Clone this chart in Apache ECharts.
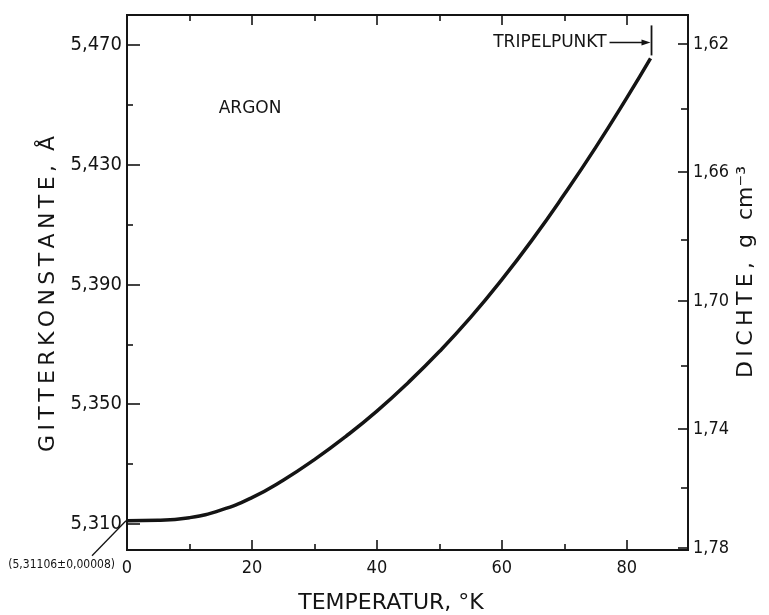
<!DOCTYPE html>
<html><head><meta charset="utf-8">
<script src="https://cdn.jsdelivr.net/npm/echarts@6/dist/echarts.min.js"></script>
<style>html,body{margin:0;padding:0;background:#fff}#c{width:769px;height:615px}</style>
</head><body><div id="c"></div>
<script>
// ---- data ----
const temperature = [0, 5, 10, 15, 20, 25, 30, 35, 40, 45, 50, 55, 60, 65, 70, 75, 80, 83.8];
const latticeConst = [5.3111, 5.3112, 5.3121, 5.3146, 5.3188, 5.3246, 5.3315, 5.3392, 5.3477, 5.3572, 5.3676, 5.3790, 5.3916, 5.4053, 5.4201, 5.4357, 5.4523, 5.4655];
const xLabelTicks = [0, 20, 40, 60, 80];
const xMajorTicks = [20, 40, 60, 80];
const xMinorTicks = [10, 30, 50, 70];
const yMajorTicks = [5.310, 5.350, 5.390, 5.430, 5.470];
const yMinorTicks = [5.330, 5.370, 5.410, 5.450];
const densityMajorLabels = ['1,62', '1,66', '1,70', '1,74', '1,78'];
const densityMajorPos = [5.4703, 5.4276, 5.3845, 5.3417, 5.3020];
const densityMinorPos = [5.4486, 5.4049, 5.3628, 5.3220];
const zeroValue = 5.31106;
const zeroValueText = '(5,31106±0,00008)';
const triplePointT = 83.8;

const FONT = '"DejaVu Sans Condensed", "Liberation Sans Narrow", "DejaVu Sans", sans-serif';
const FONT_W = '"DejaVu Sans", sans-serif';
const INK = '#141414';
const X_MIN = 0, X_MAX = 89.8, Y_MIN = 5.3013, Y_MAX = 5.4800;
const spaced = s => s.split('').join('\u2009');

const chart = echarts.init(document.getElementById('c'));
const lineAxis = { show: true, onZero: false, lineStyle: { color: INK, width: 1.8 } };

function xAx(pos, ticks, len, labels) {
  return {
    type: 'value', position: pos, min: X_MIN, max: X_MAX,
    axisLine: lineAxis, splitLine: { show: false },
    axisTick: { show: true, inside: true, length: len, customValues: ticks, lineStyle: { color: INK, width: 1.6 } },
    axisLabel: labels ? { show: true, customValues: labels, color: INK, fontFamily: FONT, fontSize: 18, margin: 9 } : { show: false }
  };
}
function yAx(pos, ticks, len, labels, fmt, fs) {
  return {
    type: 'value', position: pos, min: Y_MIN, max: Y_MAX,
    axisLine: lineAxis, splitLine: { show: false },
    axisTick: { show: true, inside: true, length: len, customValues: ticks, lineStyle: { color: INK, width: 1.6 } },
    axisLabel: labels ? { show: true, customValues: labels, color: INK, fontFamily: FONT, fontSize: fs, margin: 5, formatter: fmt } : { show: false }
  };
}

const option = {
  backgroundColor: '#fff',
  animation: false,
  grid: { left: 127, right: 81, top: 15, bottom: 65 },
  xAxis: [
    xAx('bottom', xMajorTicks, 10, xLabelTicks),
    xAx('bottom', xMinorTicks, 6, null),
    xAx('top', xMajorTicks, 10, null),
    xAx('top', xMinorTicks, 6, null)
  ],
  yAxis: [
    yAx('left', yMajorTicks, 13, yMajorTicks, v => v.toFixed(3).replace('.', ','), 20),
    yAx('left', yMinorTicks, 6, null),
    yAx('right', densityMajorPos, 10, densityMajorPos, (v) => {
      let best = 0;
      densityMajorPos.forEach((p, i) => { if (Math.abs(p - v) < Math.abs(densityMajorPos[best] - v)) best = i; });
      return densityMajorLabels[best];
    }, 18),
    yAx('right', densityMinorPos, 7, null)
  ],
  series: [{
    type: 'line', xAxisIndex: 0, yAxisIndex: 0,
    data: temperature.map((t, i) => [t, latticeConst[i]]),
    smooth: true, showSymbol: false, symbol: 'none',
    lineStyle: { color: INK, width: 3.5 }
  }]
};
chart.setOption(option);

// ---- annotations anchored to data positions ----
const p0 = chart.convertToPixel({ xAxisIndex: 0, yAxisIndex: 0 }, [0, zeroValue]);
const pT = chart.convertToPixel({ xAxisIndex: 0, yAxisIndex: 0 }, [triplePointT, latticeConst[latticeConst.length - 1]]);
const pA = chart.convertToPixel({ xAxisIndex: 0, yAxisIndex: 0 }, [19.7, 5.4486]);
const ay = pT[1] - 16;

chart.setOption({
  graphic: [
    { type: 'text', x: pA[0], y: pA[1], style: { text: 'ARGON', font: '17px ' + FONT_W, fill: INK, align: 'center', verticalAlign: 'middle' } },
    { type: 'line', shape: { x1: pT[0] + 1, y1: pT[1] - 33, x2: pT[0] + 1, y2: pT[1] - 3 }, style: { stroke: INK, lineWidth: 1.8 } },
    { type: 'line', shape: { x1: pT[0] - 41, y1: ay, x2: pT[0] - 6, y2: ay }, style: { stroke: INK, lineWidth: 1.5 } },
    { type: 'polygon', shape: { points: [[pT[0], ay], [pT[0] - 9, ay - 3], [pT[0] - 9, ay + 3]] }, style: { fill: INK } },
    { type: 'text', x: pT[0] - 44, y: ay, style: { text: 'TRIPELPUNKT', font: '17px ' + FONT_W, fill: INK, align: 'right', verticalAlign: 'middle' } },
    { type: 'line', shape: { x1: p0[0] - 1, y1: p0[1], x2: p0[0] - 35, y2: p0[1] + 35 }, style: { stroke: INK, lineWidth: 1.3 } },
    { type: 'text', x: p0[0] - 12, y: p0[1] + 44, style: { text: zeroValueText, font: '12px ' + FONT, fill: INK, align: 'right', verticalAlign: 'middle' } },
    { type: 'text', x: 48, y: 294, rotation: Math.PI / 2, style: { text: spaced('GITTERKONSTANTE,') + '  Å', font: '22px ' + FONT_W, fill: INK, align: 'center', verticalAlign: 'middle' } },
    { type: 'text', x: 746, y: 272, rotation: Math.PI / 2, style: { text: spaced('DICHTE,') + '  g  cm⁻³', font: '22px ' + FONT_W, fill: INK, align: 'center', verticalAlign: 'middle' } },
    { type: 'text', x: 391, y: 603, style: { text: 'TEMPERATUR, °K', font: '22px ' + FONT_W, fill: INK, align: 'center', verticalAlign: 'middle' } }
  ]
});
</script>
</body></html>
